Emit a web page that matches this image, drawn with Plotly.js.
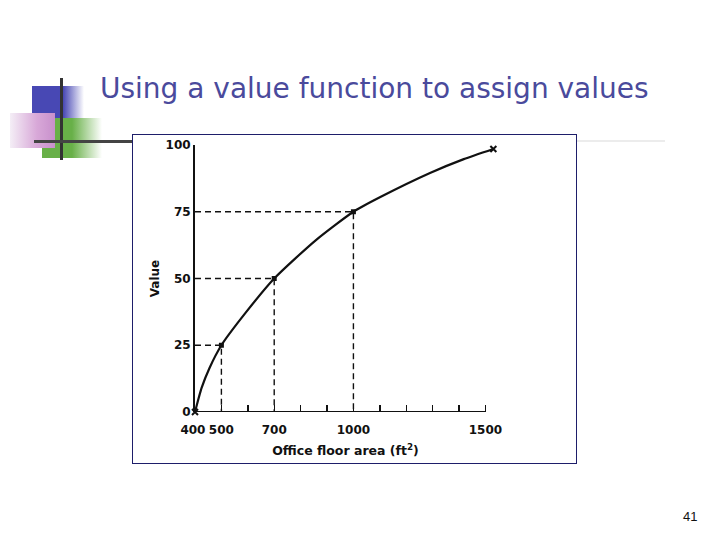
<!DOCTYPE html>
<html>
<head>
<meta charset="utf-8">
<script src="https://cdn.plot.ly/plotly-3.0.1.min.js"></script>
<style>
  html, body { margin: 0; padding: 0; background: #fff; }
  #slide { position: relative; width: 720px; height: 540px; overflow: hidden; }
  .deco { position: absolute; }
  #chart { position: absolute; left: 0; top: 0; width: 720px; height: 540px; }
</style>
</head>
<body>
<div id="slide">
  <!-- slide decoration -->
  <div class="deco" style="left:133px;top:140px;width:532px;height:2px;background:#ececec;"></div>
  <div class="deco" style="left:32px;top:86px;width:52px;height:32px;background:linear-gradient(to right,#4848b4 0%,#4848b4 60%,rgba(72,72,180,0) 100%);"></div>
  <div class="deco" style="left:42px;top:118px;width:60px;height:40px;background:linear-gradient(to right,#68b048 0%,#68b048 50%,rgba(104,176,72,0) 100%);"></div>
  <div class="deco" style="left:10px;top:113px;width:45px;height:35px;background:linear-gradient(to right,#f4eef6 0%,#d8a8d8 60%,#c890cc 100%);"></div>
  <div class="deco" style="left:60px;top:78px;width:3px;height:82px;background:#333;"></div>
  <div class="deco" style="left:34px;top:140px;width:99px;height:3px;background:#444;"></div>
  <div class="deco" style="left:132px;top:134px;width:443px;height:328px;border:1.5px solid #1e1e6a;background:#fff;"></div>
  <div id="chart"></div>
</div>
<script>
// value function
const curveX = [400, 425, 455, 500, 592, 700, 857, 1000, 1102, 1290, 1418, 1530];
const curveY = [0, 9, 16.5, 25, 37.2, 50, 64.3, 75, 80.5, 89.5, 94.7, 98.5];

// assessed points with guide lines
const markX = [500, 700, 1000];
const markY = [25, 50, 75];

// upper end of the curve
const endX = [1530];
const endY = [98.5];

// labelled ticks; unlabelled ones every 100 come from minor ticks
const xTickVals = [400, 500, 700, 1000, 1500];
const xTickText = ['400\u00a0', '500', '700', '1000', '1500'];
const yTickVals = [0, 25, 50, 75, 100];
const yTickText = ['0', '25', '50', '75', '100'];

const ink = '#111';
const tickFont = { family: 'DejaVu Sans, sans-serif', size: 12, color: ink, weight: 'bold' };

const traces = [];

// dashed guides: from the y axis across to the point, then down to the x axis
markX.forEach((px, i) => {
  traces.push({
    x: [xTickVals[0], px, px],
    y: [markY[i], markY[i], 0],
    type: 'scatter',
    mode: 'lines',
    line: { color: ink, width: 1.4, dash: '6px,4px' },
    hoverinfo: 'skip',
    cliponaxis: false,
  });
});

traces.push({
  x: curveX,
  y: curveY,
  type: 'scatter',
  mode: 'lines',
  line: { color: ink, width: 2.2, shape: 'spline', smoothing: 0.6 },
  cliponaxis: false,
});

traces.push({
  x: markX,
  y: markY,
  type: 'scatter',
  mode: 'markers',
  marker: { symbol: 'square', size: 5, color: ink },
  cliponaxis: false,
});

traces.push({
  x: [curveX[0]],
  y: [curveY[0]],
  type: 'scatter',
  mode: 'markers',
  marker: { symbol: 'x-thin', size: 6, color: ink, line: { color: ink, width: 2 } },
  cliponaxis: false,
});

traces.push({
  x: endX,
  y: endY,
  type: 'scatter',
  mode: 'markers',
  marker: { symbol: 'x-thin', size: 6, color: ink, line: { color: ink, width: 2 } },
  cliponaxis: false,
});

const layout = {
  width: 720,
  height: 540,
  margin: { l: 195, r: 224, t: 145, b: 128 },
  paper_bgcolor: 'rgba(0,0,0,0)',
  plot_bgcolor: 'rgba(0,0,0,0)',
  showlegend: false,
  title: {
    text: 'Using a value function to assign values',
    font: { family: 'DejaVu Sans, sans-serif', size: 28, color: '#4a4a9c' },
    xref: 'container',
    yref: 'container',
    x: 100 / 720,
    xanchor: 'left',
    y: 1 - 88 / 540,
    yanchor: 'middle',
  },
  xaxis: {
    range: [400, 1540],
    showgrid: false,
    zeroline: false,
    showline: false,
    tickmode: 'array',
    tickvals: xTickVals,
    ticktext: xTickText,
    tickangle: 0,
    ticks: 'inside',
    ticklen: 7,
    tickwidth: 1.4,
    tickcolor: ink,
    tickfont: tickFont,
    ticklabelstandoff: 9,
    minor: {
      tick0: 400,
      dtick: 100,
      ticks: 'inside',
      ticklen: 7,
      tickwidth: 1.4,
      tickcolor: ink,
      showgrid: false,
    },
    title: {
      text: 'Office floor area (ft<sup>2</sup>)',
      font: { family: 'DejaVu Sans, sans-serif', size: 12.5, color: ink, weight: 'bold' },
      standoff: 10,
    },
  },
  yaxis: {
    range: [0, 100],
    showgrid: false,
    zeroline: false,
    showline: true,
    linecolor: ink,
    linewidth: 2,
    tickmode: 'array',
    tickvals: yTickVals,
    ticktext: yTickText,
    ticks: 'inside',
    ticklen: 5,
    tickwidth: 1.4,
    tickcolor: ink,
    tickfont: tickFont,
    title: {
      text: 'Value',
      font: tickFont,
      standoff: 3,
    },
  },
  shapes: [
    {
      // x axis line stops at the last labelled tick, the curve runs a little past it
      type: 'line',
      xref: 'x',
      yref: 'y',
      x0: xTickVals[0],
      x1: xTickVals[xTickVals.length - 1],
      y0: 0,
      y1: 0,
      line: { color: ink, width: 2 },
    },
  ],
  annotations: [
    {
      text: '41',
      xref: 'paper',
      yref: 'paper',
      x: (690 - 195) / 301,
      y: -(516 - 412) / 267,
      xanchor: 'center',
      yanchor: 'middle',
      showarrow: false,
      font: { family: 'Liberation Sans, sans-serif', size: 13, color: '#111' },
    },
  ],
};

Plotly.newPlot('chart', traces, layout, { displayModeBar: false, staticPlot: true });
</script>
</body>
</html>
